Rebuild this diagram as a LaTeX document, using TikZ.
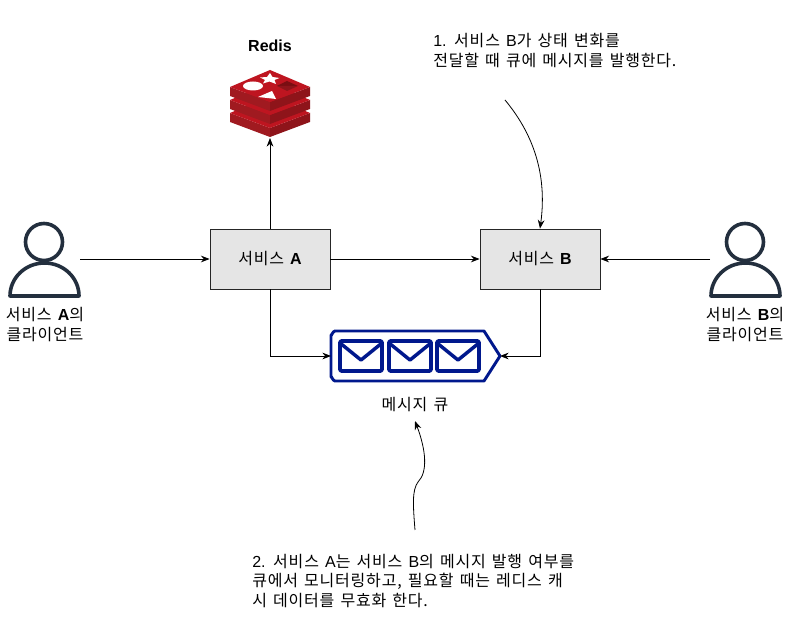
\documentclass[tikz,border=0pt]{standalone}
\usepackage{fontspec}
\setmainfont[LetterSpace=5,WordSpace=1.4]{Noto Sans CJK KR}
\newfontfamily\latf{Liberation Sans}
\newcommand{\la}[1]{{\latf #1}}
\newcommand{\lb}[1]{{\latf\bfseries #1}}
\usetikzlibrary{arrows.meta}
\definecolor{persona}{HTML}{232F3E}
\definecolor{qblue}{HTML}{00188D}
\definecolor{redisA}{HTML}{BE1520}
\definecolor{redisB}{HTML}{8E141A}
\definecolor{redisC}{HTML}{7A0E12}
\definecolor{redisD}{HTML}{A01A20}
\tikzset{
 svc/.style={draw=black!85,fill=black!10,minimum width=90pt,minimum height=45pt,inner sep=0pt,font=\fontsize{12pt}{15pt}\selectfont,line width=0.6pt},
 lbl/.style={font=\fontsize{12pt}{14.8pt}\selectfont,align=left,anchor=north west,inner sep=0pt},
 blbl/.style={font=\fontsize{12pt}{15pt}\selectfont,align=center,inner sep=0pt},
 conn/.style={draw=black,line width=0.6pt,-{Stealth[length=6.5pt,width=5pt]}},
 user/.style={draw=persona,line width=2.7pt,line join=round,fill=white},
 envelope/.style={draw=qblue,line width=2.9pt,rounded corners=1.5pt,line join=round}
}
\begin{document}
\begin{tikzpicture}[x=0.75pt,y=-0.75pt]
\useasboundingbox (0,0) rectangle (789,630);
\fill[white] (0,0) rectangle (789,630);
% boxes
\node[svc] (a) at (270,259) {서비스 \lb{A}};
\node[svc] (b) at (540,259) {서비스 \lb{B}};
% Redis
\node[blbl] (redislabel) at (270,46) {\lb{Redis}};
\foreach \dy in {26,13,0}{
 \fill[redisD] (230,{87+\dy}) -- (270,{102+\dy}) -- (270,{111+\dy}) -- (230,{96+\dy}) -- cycle;
 \fill[redisB] (310,{87+\dy}) -- (270,{102+\dy}) -- (270,{111+\dy}) -- (310,{96+\dy}) -- cycle;
 \fill[redisA] (230,{87+\dy}) -- (270,{70+\dy}) -- (310,{87+\dy}) -- (270,{102+\dy}) -- cycle;
}
\fill[white] (270,73) -- (272.5,77) -- (279.5,78) -- (274.5,80) -- (276,84) -- (269.5,81.5) -- (263,83.5) -- (265,80) -- (260,77.5) -- (267,77) -- cycle;
\fill[white] (253,86) ellipse (10 and 4.5);
\fill[white] (258,97) -- (272,91) -- (276,99) -- cycle;
\fill[redisC] (277,86) -- (287,81) -- (298,86) -- cycle;
\fill[redisB] (277,86) -- (287,91) -- (298,86) -- cycle;
\coordinate (redis) at (270,138);
% queue
\draw[draw=qblue,line width=2.2pt,line join=round] (335,331) -- (484,331) -- (500,356) -- (484,381) -- (335,381) to[out=180,in=90] (331,377) -- (331,335) to[out=-90,in=180] cycle;
\foreach \xl/\xr in {340/382,389/431,437/479}{
 \draw[envelope] (\xl,341) rectangle (\xr,371);
 \draw[draw=qblue,line width=2.6pt,line join=round] (\xl,343) -- ({(\xl+\xr)/2},360) -- (\xr,343);
}
\coordinate (qw) at (331,356);
\coordinate (qe) at (500,356);
\node[blbl] (qlabel) at (415,405) {메시지 큐};
% users
\draw[user] (10,296) arc[start angle=180,end angle=360,x radius=34.5,y radius=33] -- cycle;
\draw[user] (44,242) circle (18.5);
\draw[user] (711,296) arc[start angle=180,end angle=360,x radius=34.5,y radius=33] -- cycle;
\draw[user] (745,242) circle (18.5);
\coordinate (ua) at (80,259);
\coordinate (ub) at (710,259);
\node[blbl] (ualabel) at (45,325) {서비스 \lb{A}의\\클라이언트};
\node[blbl] (ublabel) at (745,325) {서비스 \lb{B}의\\클라이언트};
% connectors
\draw[conn] (ua) -- (a.west);
\draw[conn] (a.north) -- (redis);
\draw[conn] (a.east) -- (b.west);
\draw[conn] (ub) -- (b.east);
\draw[conn] (a.south) -- (270,356) -- (qw);
\draw[conn] (b.south) -- (540,356) -- (qe);
% notes
\node[lbl] (n1) at (433,33) {\la{1.} 서비스 \la{B}가 상태 변화를\\전달할 때 큐에 메시지를 발행한다.};
\node[lbl] (n2) at (252,553.5) {\la{2.} 서비스 \la{A}는 서비스 \la{B}의 메시지 발행 여부를\\큐에서 모니터링하고, 필요할 때는 레디스 캐\\시 데이터를 무효화 한다.};
\coordinate (c1) at (505,100);
\coordinate (c2) at (415,530);
\coordinate (c2m) at (418,482);
\coordinate (c2e) at (415,421);
\draw[conn] (c1) .. controls (530,130) and (548,170) .. (b.north);
\draw[conn] (c2) .. controls (413,505) and (412,490) .. (c2m) .. controls (428,472) and (426,450) .. (c2e);
\end{tikzpicture}
\end{document}
